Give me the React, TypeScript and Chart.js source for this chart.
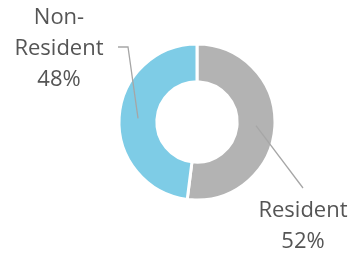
import React, { useEffect, useRef } from "react";
import { Chart, registerables } from "chart.js";

Chart.register(...registerables);

const categories = ["Resident", "Non-Resident"];
const values = [52, 48];
const percentLabels = ["52%", "48%"];
const colors = ["#b3b3b3", "#7ecce6"];

const calloutPlugin = {
  id: "callouts",
  afterDraw(chart: any) {
    const ctx = chart.ctx;
    const meta = chart.getDatasetMeta(0);
    ctx.save();
    ctx.font = "22px 'Open Sans'";
    ctx.fillStyle = "#555555";
    ctx.textAlign = "center";
    ctx.textBaseline = "middle";
    ctx.strokeStyle = "#a6a6a6";
    ctx.lineWidth = 1.3;
    meta.data.forEach((arc: any, i: number) => {
      const p = arc.getProps(["x", "y", "startAngle", "endAngle", "innerRadius", "outerRadius"], true);
      const mid = (p.startAngle + p.endAngle) / 2;
      const r = (p.innerRadius + p.outerRadius) / 2;
      const ax = p.x + Math.cos(mid) * r;
      const ay = p.y + Math.sin(mid) * r;
      ctx.beginPath();
      if (i === 0) {
        const ex = p.x + 106;
        const ey = p.y + 66;
        ctx.moveTo(ax, ay);
        ctx.lineTo(ex, ey);
        ctx.stroke();
        ctx.fillText(categories[i], p.x + 106, p.y + 89);
        ctx.fillText(percentLabels[i], p.x + 106, p.y + 120);
      } else {
        const ex = p.x - 69;
        const ey = p.y - 75;
        ctx.moveTo(ax, ay);
        ctx.lineTo(ex, ey);
        ctx.lineTo(ex - 10, ey);
        ctx.stroke();
        ctx.fillText("Non-", p.x - 138, p.y - 104);
        ctx.fillText("Resident", p.x - 138, p.y - 73);
        ctx.fillText(percentLabels[i], p.x - 138, p.y - 42);
      }
    });
    ctx.restore();
  },
};

export default function App() {
  const ref = useRef<HTMLCanvasElement>(null);
  useEffect(() => {
    document.body.style.margin = "0";
    const chart = new Chart(ref.current!, {
      type: "doughnut",
      data: {
        labels: categories,
        datasets: [
          {
            data: values,
            backgroundColor: colors,
            borderColor: "#ffffff",
            borderWidth: 3,
          },
        ],
      },
      options: {
        responsive: false,
        animation: false,
        cutout: "51.5%",
        layout: { padding: { left: 117.5, top: 42.5, right: 75.5, bottom: 53.5 } },
        plugins: { legend: { display: false }, tooltip: { enabled: false } },
      },
      plugins: [calloutPlugin],
    });
    return () => chart.destroy();
  }, []);
  return (
    <div style={{ width: 352, height: 255, background: "#fff" }}>
      <canvas ref={ref} width={352} height={255} />
    </div>
  );
}
